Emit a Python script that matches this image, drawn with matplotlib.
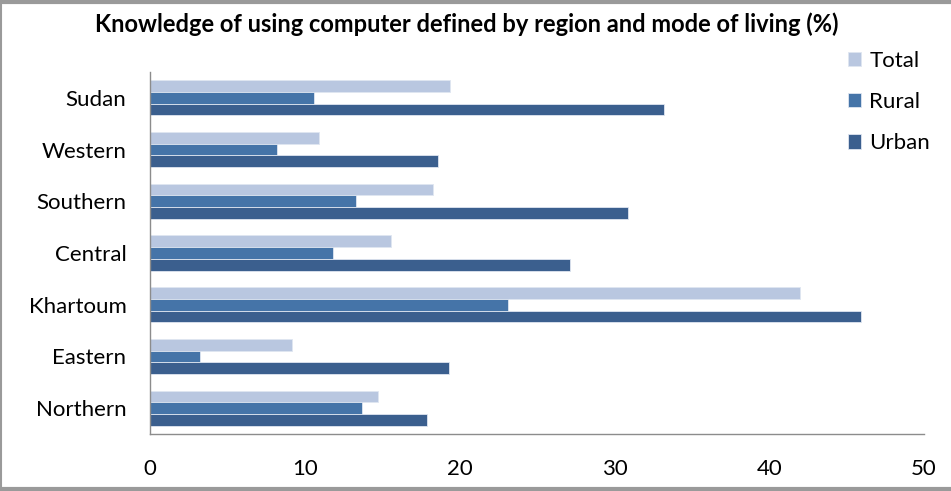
import matplotlib
matplotlib.use("Agg")
import matplotlib.pyplot as plt
import numpy as np

# data (%)
regions = ["Sudan", "Western", "Southern", "Central", "Khartoum", "Eastern", "Northern"]
total = [19.4, 10.9, 18.3, 15.6, 42.0, 9.2, 14.7]
rural = [10.6, 8.2, 13.3, 11.8, 23.1, 3.2, 13.7]
urban = [33.2, 18.6, 30.9, 27.1, 45.9, 19.3, 17.9]

series = [("Total", total, "#b9c7e0"), ("Rural", rural, "#4574a8"), ("Urban", urban, "#3b5f8e")]

plt.rcParams['font.family'] = ['Lato', 'DejaVu Sans']

fig = plt.figure(figsize=(9.51, 4.91), dpi=100)
ax = fig.add_axes([150 / 951, 1 - 434 / 491, 774 / 951, 362 / 491])

y = np.arange(len(regions))
h = 0.226
for i, (name, vals, col) in enumerate(series):
    ax.barh(y + (i - 1) * h, vals, height=h, color=col, edgecolor="#dfe6f1",
            linewidth=0.6, label=name)

ax.set_xlim(0, 50)
ax.set_ylim(len(regions) - 0.5, -0.5)
ax.set_yticks(y)
ax.set_yticklabels(regions, fontsize=16)
ax.set_xticks(np.arange(0, 51, 10))
ax.tick_params(axis="x", length=0, pad=18, labelsize=16)
ax.tick_params(axis="y", length=0, pad=17)

for s in ["top", "right"]:
    ax.spines[s].set_visible(False)
for s in ["left", "bottom"]:
    ax.spines[s].set_color("#8c8c8c")
    ax.spines[s].set_linewidth(1)

fig.text(467 / 951, 1 - 24 / 491, "Knowledge of using computer defined by region and mode of living (%)",
         ha="center", va="center", fontsize=17, fontweight="bold")

leg = fig.legend(loc="upper left", bbox_to_anchor=(837 / 951, 1 - 40 / 491), frameon=False,
                 fontsize=16, handlelength=0.6, handleheight=0.6, handletextpad=0.35,
                 labelspacing=0.95, borderpad=0)

# gray outer frame lines
fig.add_artist(plt.Line2D([0, 1], [1 - 2 / 491, 1 - 2 / 491], color="#9a9a9a", lw=3, transform=fig.transFigure))
fig.add_artist(plt.Line2D([0, 1], [2 / 491, 2 / 491], color="#9a9a9a", lw=3, transform=fig.transFigure))
fig.add_artist(plt.Line2D([1 / 951, 1 / 951], [0, 1], color="#9a9a9a", lw=1.5, transform=fig.transFigure))

fig.savefig("out.png", dpi=100)
